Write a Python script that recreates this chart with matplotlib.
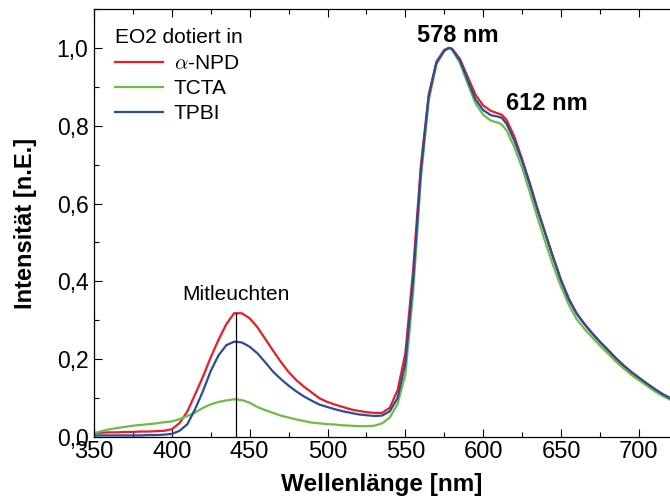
import matplotlib
matplotlib.use("Agg")
import matplotlib.pyplot as plt
from matplotlib.ticker import MultipleLocator, FuncFormatter

# ---- DATA ----
wavelength = (list(range(350, 576, 5)) + [578] + list(range(580, 611, 5))
              + [612] + list(range(615, 721, 5)))

npd = [0.010, 0.011, 0.012, 0.012, 0.013, 0.013, 0.014, 0.014, 0.015, 0.016,
       0.020, 0.036, 0.066, 0.110, 0.155, 0.205, 0.250, 0.290, 0.318, 0.318,
       0.305, 0.282, 0.252, 0.222, 0.193, 0.167, 0.146, 0.129, 0.114, 0.099,
       0.090, 0.083, 0.077, 0.071, 0.067, 0.064, 0.062, 0.062, 0.075, 0.120,
       0.215, 0.430, 0.700, 0.880, 0.965, 0.995,
       1.000,
       0.998, 0.972, 0.926, 0.880, 0.852, 0.838, 0.831,
       0.828,
       0.815, 0.772, 0.714, 0.652, 0.585, 0.522, 0.462, 0.404, 0.356, 0.318, 0.291,
       0.266, 0.244, 0.223, 0.202, 0.184, 0.166, 0.151, 0.137, 0.123, 0.110, 0.100]

tcta = [0.010, 0.015, 0.020, 0.023, 0.026, 0.029, 0.031, 0.033, 0.035, 0.038,
        0.040, 0.046, 0.054, 0.063, 0.075, 0.084, 0.090, 0.094, 0.097, 0.095,
        0.088, 0.077, 0.069, 0.062, 0.055, 0.050, 0.045, 0.041, 0.037, 0.035,
        0.033, 0.032, 0.030, 0.029, 0.028, 0.028, 0.029, 0.035, 0.050, 0.085,
        0.160, 0.370, 0.665, 0.865, 0.958, 0.992,
        1.000,
        0.995, 0.962, 0.908, 0.858, 0.828, 0.813, 0.807,
        0.803,
        0.788, 0.745, 0.692, 0.628, 0.562, 0.500, 0.440, 0.386, 0.340, 0.303, 0.278,
        0.256, 0.235, 0.215, 0.195, 0.177, 0.160, 0.146, 0.132, 0.118, 0.106, 0.096]

tpbi = [0.004, 0.004, 0.004, 0.004, 0.004, 0.004, 0.004, 0.005, 0.005, 0.006,
        0.008, 0.016, 0.033, 0.072, 0.118, 0.170, 0.210, 0.236, 0.245, 0.243,
        0.232, 0.215, 0.192, 0.168, 0.149, 0.132, 0.117, 0.104, 0.093, 0.083,
        0.077, 0.071, 0.066, 0.062, 0.058, 0.056, 0.054, 0.055, 0.066, 0.100,
        0.190, 0.405, 0.685, 0.875, 0.962, 0.993,
        1.000,
        0.997, 0.968, 0.918, 0.868, 0.840, 0.827, 0.823,
        0.820,
        0.805, 0.762, 0.710, 0.648, 0.582, 0.522, 0.460, 0.402, 0.353, 0.317, 0.290,
        0.267, 0.245, 0.225, 0.204, 0.185, 0.168, 0.153, 0.138, 0.124, 0.111, 0.100]

blue_peak_nm = 441   # co-emission marker
main_peak_nm = 578
shoulder_nm = 612

# ---- PLOT ----
plt.rcParams['font.family'] = ['Liberation Sans', 'DejaVu Sans']
plt.rcParams['mathtext.fontset'] = 'cm'

fig = plt.figure(figsize=(6.7, 5.0), dpi=100)
ax = fig.add_axes([0.1403, 0.126, 0.8597, 0.856])

ax.plot(wavelength, npd, color='#ec1c24', lw=1.6, label=r'$\alpha$-NPD')
ax.plot(wavelength, tcta, color='#6cbd45', lw=1.6, label='TCTA')
ax.plot(wavelength, tpbi, color='#2d4b9d', lw=1.6, label='TPBI')

# marker line under the blue emission band
ax.plot([blue_peak_nm, blue_peak_nm], [0, max(npd[:30])], color='black', lw=0.9)
ax.text(blue_peak_nm, 0.365, 'Mitleuchten', ha='center', va='center', fontsize=15)

ax.text(main_peak_nm + 6, 1.033, f'{main_peak_nm} nm', ha='center', va='center',
        fontsize=17, fontweight='bold')
ax.text(shoulder_nm + 29, 0.858, f'{shoulder_nm} nm', ha='center', va='center',
        fontsize=17, fontweight='bold')

ax.set_xlim(350, 720)
ax.set_ylim(0, 1.1)
ax.xaxis.set_major_locator(MultipleLocator(50))
ax.xaxis.set_minor_locator(MultipleLocator(25))
ax.yaxis.set_major_locator(MultipleLocator(0.2))
ax.yaxis.set_minor_locator(MultipleLocator(0.1))
ax.yaxis.set_major_formatter(FuncFormatter(lambda v, p: f'{v:.1f}'.replace('.', ',')))

ax.tick_params(which='both', direction='in', top=True, right=False, width=0.8)
ax.tick_params(which='major', length=6)
ax.tick_params(which='minor', length=3.5)
ax.tick_params(axis='x', pad=3, labelsize=17)
ax.tick_params(axis='y', pad=4, labelsize=16.5)
ax.spines['right'].set_visible(False)
for s in ['left', 'bottom', 'top']:
    ax.spines[s].set_linewidth(0.9)

ax.set_xlabel('Wellenlänge [nm]', fontsize=17.5, fontweight='bold', labelpad=7)
ax.set_ylabel('Intensität [n.E.]', fontsize=17, fontweight='bold', labelpad=14)

leg = ax.legend(title='EO2 dotiert in', loc='upper left', bbox_to_anchor=(0.012, 0.99),
                frameon=False, fontsize=15, title_fontsize=15, handlelength=2.3,
                handletextpad=0.5, labelspacing=0.3, borderaxespad=0.3)
leg._legend_box.align = 'left'
leg._legend_box.sep = 5

fig.savefig('out.png', dpi=100)
